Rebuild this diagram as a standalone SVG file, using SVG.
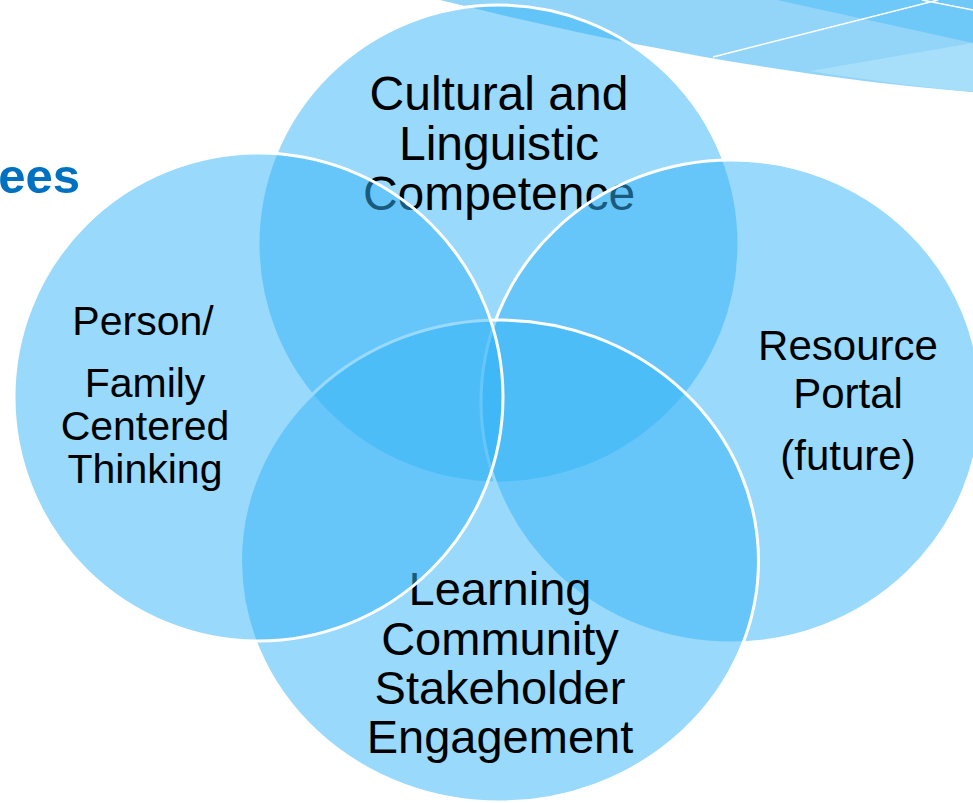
<svg xmlns="http://www.w3.org/2000/svg" width="973" height="803" viewBox="0 0 973 803">
<style>
.c{fill:rgb(51,179,247);fill-opacity:0.5;stroke:#fff;stroke-width:3}
.t{font-family:"Liberation Sans",Arial,sans-serif;fill:#000;text-anchor:middle}
</style>
<rect width="973" height="803" fill="#fff"/>
<g id="swoosh">
<path d="M440,0 L973,0 L973,92 C800,78 620,45 440,0 Z" fill="#93D5F9"/>
<path d="M777,0 L973,0 L973,43 Z" fill="#6EC8F8"/>
<path d="M810,71 L973,43 L973,92 C920,87 860,79 810,71 Z" fill="#A7DEFA"/>
<path d="M713,57 L938,0 M922,0 L973,10" fill="none" stroke="#fff" stroke-width="1.5"/>
</g>
<text x="80" y="193" font-family="Liberation Sans,Arial,sans-serif" font-size="49" font-weight="bold" fill="#0070C0" text-anchor="end">ees</text>
<g id="top">
<ellipse class="c" cx="498.5" cy="244" rx="240.5" ry="239"/>
<text class="t" font-size="48" x="499" y="110">Cultural and</text>
<text class="t" font-size="48" x="499" y="160">Linguistic</text>
<text class="t" font-size="48" x="499" y="210">Competence</text>
</g>
<g id="right">
<ellipse class="c" cx="731" cy="401.5" rx="250" ry="241.5"/>
<text class="t" font-size="42" x="848" y="360">Resource</text>
<text class="t" font-size="42" x="848" y="408">Portal</text>
<text class="t" font-size="42" x="848" y="470">(future)</text>
</g>
<g id="bottom">
<ellipse class="c" cx="499.5" cy="561" rx="259" ry="241"/>
<text class="t" font-size="47" x="500" y="605">Learning</text>
<text class="t" font-size="47" x="500" y="654.5">Community</text>
<text class="t" font-size="47" x="500" y="704">Stakeholder</text>
<text class="t" font-size="47" x="500" y="753">Engagement</text>
</g>
<g id="left">
<ellipse class="c" cx="258.5" cy="397" rx="244.5" ry="244"/>
<text class="t" font-size="41" x="143" y="335">Person/</text>
<text class="t" font-size="41" x="145" y="397">Family</text>
<text class="t" font-size="41" x="145" y="440">Centered</text>
<text class="t" font-size="41" x="145" y="483">Thinking</text>
</g>
<g id="connectors"/>
</svg>
